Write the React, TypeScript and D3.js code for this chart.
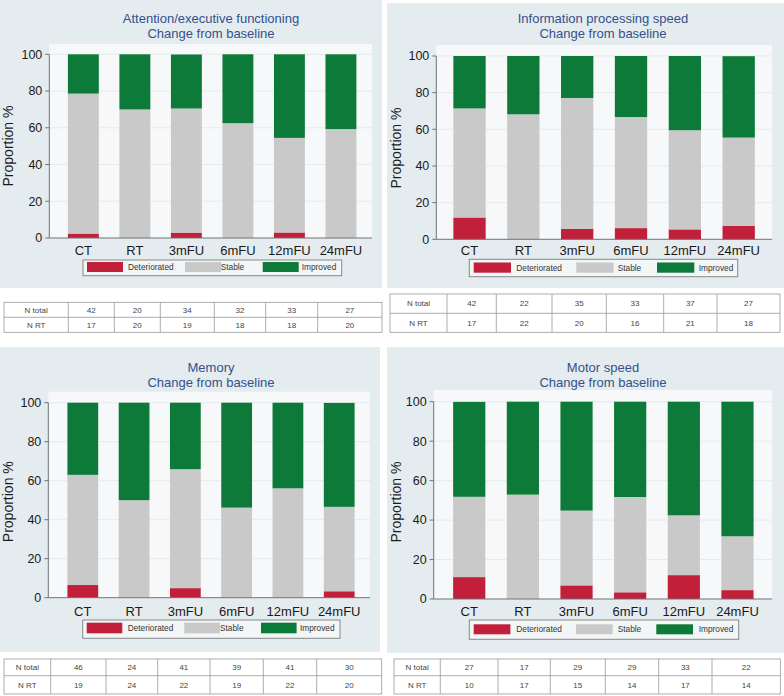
import React from 'react';
import * as d3 from 'd3';

// ---------- DATA ----------
const categories = ['CT', 'RT', '3mFU', '6mFU', '12mFU', '24mFU'];
const yTicks = [0, 20, 40, 60, 80, 100];
const seriesNames = ['Deteriorated', 'Stable', 'Improved'];
const rowLabels = ['N total', 'N RT'];

const attentionTitle = ['Attention/executive functioning', 'Change from baseline'];
const attentionDeteriorated = [2.4, 0, 2.9, 0, 3.0, 0];
const attentionStable = [76.2, 70.0, 67.6, 62.5, 51.5, 59.3];
const attentionImproved = [21.4, 30.0, 29.4, 37.5, 45.5, 40.7];
const attentionNTotal = [42, 20, 34, 32, 33, 27];
const attentionNRT = [17, 20, 19, 18, 18, 20];

const speedTitle = ['Information processing speed', 'Change from baseline'];
const speedDeteriorated = [11.9, 0, 5.7, 6.1, 5.4, 7.4];
const speedStable = [59.5, 68.2, 71.4, 60.6, 54.1, 48.1];
const speedImproved = [28.6, 31.8, 22.9, 33.3, 40.5, 44.4];
const speedNTotal = [42, 22, 35, 33, 37, 27];
const speedNRT = [17, 22, 20, 16, 21, 18];

const memoryTitle = ['Memory', 'Change from baseline'];
const memoryDeteriorated = [6.5, 0, 4.9, 0, 0, 3.3];
const memoryStable = [56.5, 50.0, 61.0, 46.2, 56.1, 43.3];
const memoryImproved = [37.0, 50.0, 34.1, 53.8, 43.9, 53.3];
const memoryNTotal = [46, 24, 41, 39, 41, 30];
const memoryNRT = [19, 24, 22, 19, 22, 20];

const motorTitle = ['Motor speed', 'Change from baseline'];
const motorDeteriorated = [11.1, 0, 6.9, 3.4, 12.1, 4.5];
const motorStable = [40.7, 52.9, 37.9, 48.3, 30.3, 27.3];
const motorImproved = [48.1, 47.1, 55.2, 48.3, 57.6, 68.2];
const motorNTotal = [27, 17, 29, 29, 33, 22];
const motorNRT = [10, 17, 15, 14, 17, 14];

// ---------- STYLE ----------
const COLORS = ['#c21f3a', '#c9c9c9', '#0d7a3a'];
const FONT = '"Liberation Sans", Arial, Helvetica, sans-serif';
const PANEL_BG = '#e5ecef';
const PLOT_BG = '#f6f8f9';
const TITLE_COLOR = '#34508c';

type Layout = {
  panel: [number, number, number, number];
  plotTop: number;
  axisX: number;
  plotRight: number;
  y0: number;
  y100: number;
  bandRange: [number, number];
  catY: number;
  titleX: number;
  titleY: [number, number];
  yTitle: [number, number];
  legend: [number, number, number, number];
  swatchX: number[];
  swatchW: number;
  swatchY: [number, number];
  labelX: number[];
  table: { xs: number[]; ys: number[] };
};

const layouts: Layout[] = [
  {
    panel: [0, 0, 382, 288], plotTop: 44, axisX: 49.3, plotRight: 372, y0: 238, y100: 54.3,
    bandRange: [57.6, 366.7], catY: 250, titleX: 211, titleY: [18, 33], yTitle: [8, 146],
    legend: [83, 260, 258.7, 15.7], swatchX: [87, 185, 262.7], swatchW: 36, swatchY: [262, 272],
    labelX: [128, 220.7, 301.7],
    table: { xs: [4, 68.3, 114.3, 160.3, 214.3, 265.7, 317.7, 382], ys: [302.3, 317.3, 332.3] },
  },
  {
    panel: [387, 3, 397, 285], plotTop: 45, axisX: 436.3, plotRight: 772, y0: 239.3, y100: 56,
    bandRange: [442.6, 765.6], catY: 250, titleX: 603, titleY: [18, 33], yTitle: [396, 148],
    legend: [469.3, 259.3, 268.4, 17.4], swatchX: [473.7, 576.3, 657], swatchW: 37.3, swatchY: [262.5, 272.7],
    labelX: [516.3, 617.7, 698.7],
    table: { xs: [390, 447, 496.3, 552, 606.3, 663.7, 717, 780], ys: [294, 313.3, 332.3] },
  },
  {
    panel: [0, 347, 380, 305], plotTop: 391.7, axisX: 48.3, plotRight: 370, y0: 597.7, y100: 402.7,
    bandRange: [57.15, 364.85], catY: 611, titleX: 211, titleY: [367.7, 382.7], yTitle: [8, 501.7],
    legend: [82.7, 620, 257.3, 18.3], swatchX: [86.7, 184.3, 261], swatchW: 35.6, swatchY: [622.7, 633.3],
    labelX: [127.7, 220, 300],
    table: { xs: [4, 50.7, 106, 157.7, 210, 263.3, 316.7, 381.7], ys: [659, 675.7, 694] },
  },
  {
    panel: [387, 347, 397, 306], plotTop: 390, axisX: 433.7, plotRight: 772, y0: 599, y100: 401.7,
    bandRange: [442.4, 764.3], catY: 611, titleX: 603, titleY: [367.7, 382.7], yTitle: [396, 502],
    legend: [469.3, 620, 269.4, 19.3], swatchX: [473.7, 576, 656.3], swatchW: 36.7, swatchY: [624.3, 634.3],
    labelX: [516.3, 617.7, 698.7],
    table: { xs: [394, 440.3, 498, 550.3, 605.3, 658.7, 712, 780.3], ys: [659, 675.7, 694] },
  },
];

const panels = [
  { title: attentionTitle, series: [attentionDeteriorated, attentionStable, attentionImproved], rows: [attentionNTotal, attentionNRT] },
  { title: speedTitle, series: [speedDeteriorated, speedStable, speedImproved], rows: [speedNTotal, speedNRT] },
  { title: memoryTitle, series: [memoryDeteriorated, memoryStable, memoryImproved], rows: [memoryNTotal, memoryNRT] },
  { title: motorTitle, series: [motorDeteriorated, motorStable, motorImproved], rows: [motorNTotal, motorNRT] },
];

function Panel({ p, L }: { p: typeof panels[number]; L: Layout }) {
  const x = d3.scaleBand<string>().domain(categories).range(L.bandRange).paddingInner(0.4).paddingOuter(0.2);
  const y = d3.scaleLinear().domain([0, 100]).range([L.y0, L.y100]);
  const rows = categories.map((c, i) => {
    const o: any = { cat: c };
    seriesNames.forEach((s, k) => (o[s] = p.series[k][i]));
    return o;
  });
  const stacked = d3.stack<any>().keys(seriesNames)(rows);
  const [px, py, pw, ph] = L.panel;
  const [lx, ly, lw, lh] = L.legend;
  const t = L.table;
  return (
    <g>
      <rect x={px} y={py} width={pw} height={ph} fill={PANEL_BG} />
      <rect x={L.axisX} y={L.plotTop} width={L.plotRight - L.axisX} height={L.y0 - L.plotTop} fill={PLOT_BG} />
      {yTicks.slice(1).map((v) => (
        <line key={'g' + v} x1={L.axisX} x2={L.plotRight} y1={y(v)} y2={y(v)} stroke="#e7ebed" strokeWidth={1} />
      ))}
      <text x={L.titleX} y={L.titleY[0]} dy="0.35em" textAnchor="middle" fontFamily={FONT} fontSize={13} fill={TITLE_COLOR}>{p.title[0]}</text>
      <text x={L.titleX} y={L.titleY[1]} dy="0.35em" textAnchor="middle" fontFamily={FONT} fontSize={13} fill={TITLE_COLOR}>{p.title[1]}</text>
      {stacked.map((layer, k) => (
        <g key={layer.key} fill={COLORS[k]}>
          {layer.map((d, i) => (
            <rect key={i} x={x(categories[i])} width={x.bandwidth()} y={y(d[1])} height={Math.max(0, y(d[0]) - y(d[1]))} />
          ))}
        </g>
      ))}
      <line x1={L.axisX} x2={L.axisX} y1={y(100)} y2={L.y0} stroke="#6f7478" strokeWidth={1} />
      <line x1={L.axisX} x2={L.plotRight} y1={L.y0} y2={L.y0} stroke="#6f7478" strokeWidth={1} />
      {yTicks.map((v) => (
        <g key={'t' + v}>
          <line x1={L.axisX - 4} x2={L.axisX} y1={y(v)} y2={y(v)} stroke="#6f7478" />
          <text x={L.axisX - 7} y={y(v)} dy="0.35em" textAnchor="end" fontFamily={FONT} fontSize={12.5} fill="#1a1a1a">{v}</text>
        </g>
      ))}
      {categories.map((c) => (
        <text key={c} x={(x(c) as number) + x.bandwidth() / 2} y={L.catY} dy="0.35em" textAnchor="middle" fontFamily={FONT} fontSize={13} fill="#1a1a1a">{c}</text>
      ))}
      <text transform={`translate(${L.yTitle[0]},${L.yTitle[1]}) rotate(-90)`} dy="0.35em" textAnchor="middle" fontFamily={FONT} fontSize={14} fill="#1a1a1a">Proportion %</text>
      <rect x={lx} y={ly} width={lw} height={lh} fill="#f3f6f7" stroke="#888" strokeWidth={1} />
      {seriesNames.map((s, k) => (
        <g key={s}>
          <rect x={L.swatchX[k]} y={L.swatchY[0]} width={L.swatchW} height={L.swatchY[1] - L.swatchY[0]} fill={COLORS[k]} />
          <text x={L.labelX[k]} y={(L.swatchY[0] + L.swatchY[1]) / 2} dy="0.35em" fontFamily={FONT} fontSize={8.3} fill="#333">{s}</text>
        </g>
      ))}
      <rect x={t.xs[0]} y={t.ys[0]} width={t.xs[t.xs.length - 1] - t.xs[0]} height={t.ys[2] - t.ys[0]} fill="#ffffff" stroke="#999" strokeWidth={0.8} />
      <line x1={t.xs[0]} x2={t.xs[t.xs.length - 1]} y1={t.ys[1]} y2={t.ys[1]} stroke="#999" strokeWidth={0.8} />
      {t.xs.slice(1, -1).map((xv, i) => (
        <line key={'c' + i} x1={xv} x2={xv} y1={t.ys[0]} y2={t.ys[2]} stroke="#999" strokeWidth={0.8} />
      ))}
      {rowLabels.map((rl, r) => (
        <g key={rl}>
          <text x={(t.xs[0] + t.xs[1]) / 2} y={(t.ys[r] + t.ys[r + 1]) / 2} dy="0.35em" textAnchor="middle" fontFamily={FONT} fontSize={8} fill="#444">{rl}</text>
          {p.rows[r].map((v, i) => (
            <text key={i} x={(t.xs[i + 1] + t.xs[i + 2]) / 2} y={(t.ys[r] + t.ys[r + 1]) / 2} dy="0.35em" textAnchor="middle" fontFamily={FONT} fontSize={8} fill="#444">{v}</text>
          ))}
        </g>
      ))}
    </g>
  );
}

export default function App() {
  return (
    <svg width={784} height={696} style={{ position: 'absolute', left: 0, top: 0, background: '#ffffff' }}>
      {panels.map((p, i) => (
        <Panel key={i} p={p} L={layouts[i]} />
      ))}
    </svg>
  );
}
